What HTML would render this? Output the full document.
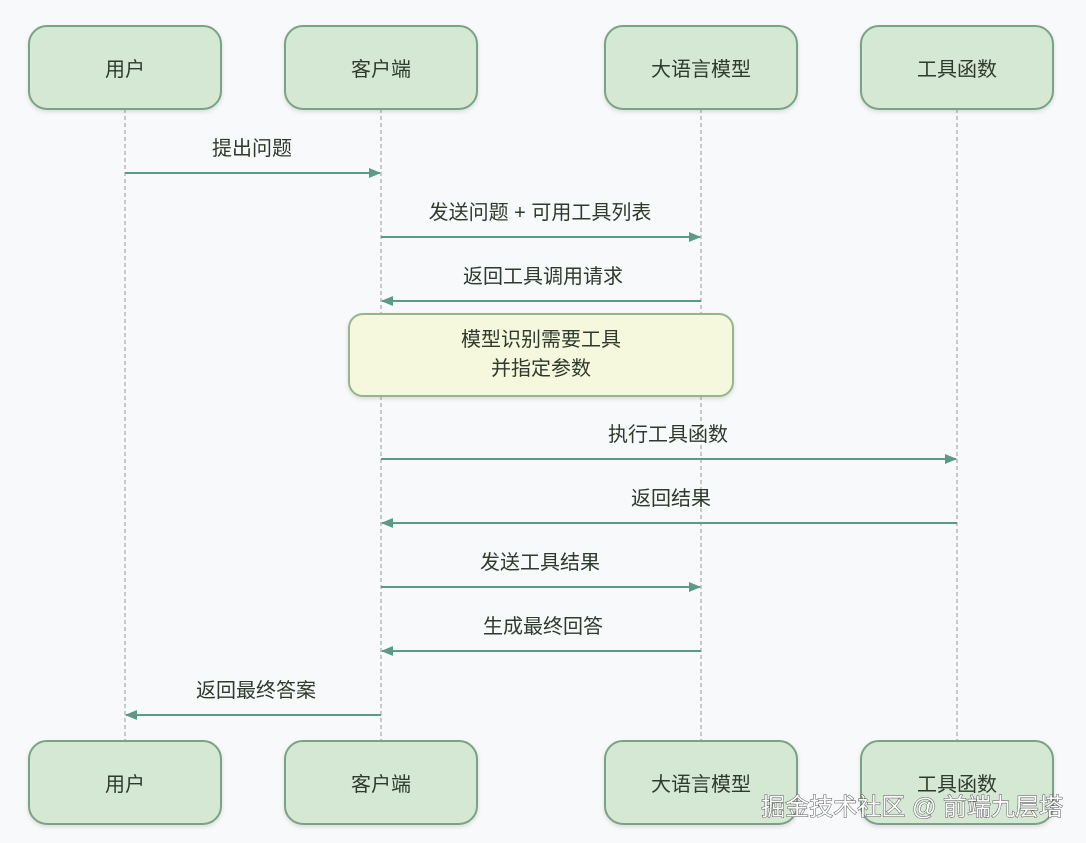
<!DOCTYPE html>
<html><head><meta charset="utf-8"><style>
html,body{margin:0;padding:0;background:#f8f9fb;}
svg{display:block;font-family:"Liberation Sans","Noto Sans CJK SC",sans-serif;}
</style></head><body>
<svg width="1086" height="843" viewBox="0 0 1086 843" xmlns="http://www.w3.org/2000/svg">
<defs>
<marker id="a" markerWidth="12" markerHeight="10" refX="11" refY="5" orient="auto" markerUnits="userSpaceOnUse">
<path d="M0,0 L12,5 L0,10 Z" fill="#5b9a83"/></marker>
<filter id="s" x="-10%" y="-10%" width="120%" height="130%"><feDropShadow dx="0" dy="2" stdDeviation="2" flood-color="#000" flood-opacity="0.12"/></filter>
</defs>
<rect width="1086" height="843" fill="#f8f9fb"/>
<g stroke="#a9a9a9" stroke-width="1.2" stroke-dasharray="4,3">
<line x1="125" y1="109" x2="125" y2="741"/>
<line x1="381" y1="109" x2="381" y2="741"/>
<line x1="701" y1="109" x2="701" y2="741"/>
<line x1="957" y1="109" x2="957" y2="741"/>
</g>
<g fill="#d5e8d4" stroke="#79a382" stroke-width="2" filter="url(#s)">
<rect x="29" y="26" width="192" height="83" rx="18"/>
<rect x="285" y="26" width="192" height="83" rx="18"/>
<rect x="605" y="26" width="192" height="83" rx="18"/>
<rect x="861" y="26" width="192" height="83" rx="18"/>
<rect x="29" y="741" width="192" height="83" rx="18"/>
<rect x="285" y="741" width="192" height="83" rx="18"/>
<rect x="605" y="741" width="192" height="83" rx="18"/>
<rect x="861" y="741" width="192" height="83" rx="18"/>
</g>
<rect x="349" y="314" width="384" height="82" rx="14" fill="#f5f8dc" stroke="#98b48e" stroke-width="2" filter="url(#s)"/>
<g font-size="20" fill="#2f3a2c" text-anchor="middle">
<text x="125" y="76">用户</text><text x="381" y="76">客户端</text><text x="701" y="76">大语言模型</text><text x="957" y="76">工具函数</text>
<text x="125" y="791">用户</text><text x="381" y="791">客户端</text><text x="701" y="791">大语言模型</text><text x="957" y="791">工具函数</text>
<text x="541" y="346">模型识别需要工具</text><text x="541" y="375">并指定参数</text>
</g>
<g stroke="#5b9a83" stroke-width="2" marker-end="url(#a)">
<line x1="125" y1="173" x2="380" y2="173"/>
<line x1="381" y1="237" x2="700" y2="237"/>
<line x1="701" y1="301" x2="382" y2="301"/>
<line x1="381" y1="459" x2="956" y2="459"/>
<line x1="957" y1="523" x2="382" y2="523"/>
<line x1="381" y1="587" x2="700" y2="587"/>
<line x1="701" y1="651" x2="382" y2="651"/>
<line x1="381" y1="715" x2="126" y2="715"/>
</g>
<g font-size="20" fill="#2f3a2c" text-anchor="middle">
<text x="252" y="155">提出问题</text>
<text x="540" y="219">发送问题 + 可用工具列表</text>
<text x="543" y="283">返回工具调用请求</text>
<text x="668" y="441">执行工具函数</text>
<text x="671" y="505">返回结果</text>
<text x="540" y="569">发送工具结果</text>
<text x="543" y="633">生成最终回答</text>
<text x="256" y="697">返回最终答案</text>
</g>
<text x="1063" y="815" font-size="24" fill="#fff" text-anchor="end" stroke="#555" stroke-width="1" style="paint-order:stroke">掘金技术社区 @ 前端九层塔</text>
</svg>
</body></html>
